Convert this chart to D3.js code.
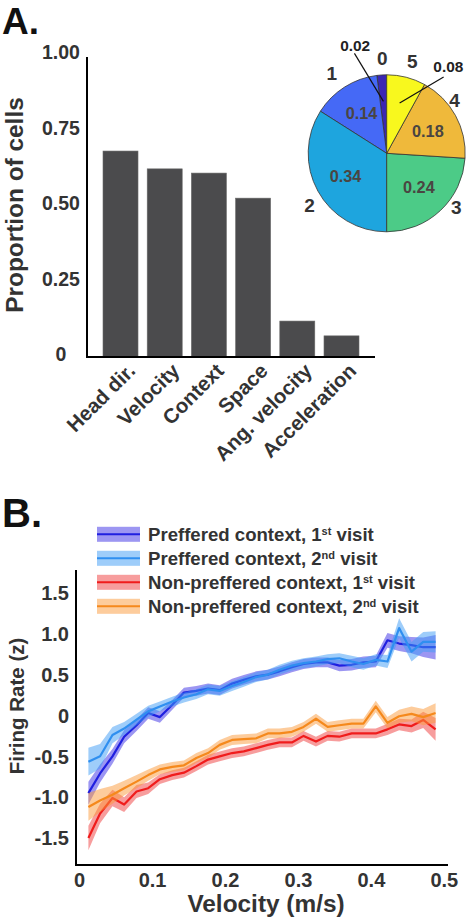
<!DOCTYPE html>
<html><head><meta charset="utf-8">
<script src="https://cdn.jsdelivr.net/npm/d3@7"></script>
<style>body{margin:0;background:#fff} svg text{font-family:"Liberation Sans",Arial,sans-serif;font-weight:bold}</style>
</head><body><svg id="c" width="470" height="918"></svg>
<script>
// ---------- data ----------
const barCategories = ["Head dir.","Velocity","Context","Space","Ang. velocity","Acceleration"];
const barValues = [0.682,0.623,0.609,0.526,0.119,0.07];
const barTicks = [0,0.25,0.5,0.75,1];
const barTickLabels = ["0","0.25","0.50","0.75","1.00"];

const pieCategories = ["0","1","2","3","4","5"];
const pieValues = [0.02,0.14,0.34,0.24,0.18,0.08];
const pieValueLabels = ["0.02","0.14","0.34","0.24","0.18","0.08"];

const velocity = [0.012,0.028,0.045,0.061,0.078,0.094,0.110,0.127,0.143,0.160,0.176,0.192,0.209,0.225,0.242,0.258,0.274,0.291,0.307,0.324,0.340,0.356,0.373,0.389,0.406,0.422,0.438,0.455,0.471,0.488];
const prefVisit1 = [-0.95,-0.71,-0.50,-0.26,-0.12,0.03,-0.02,0.13,0.28,0.30,0.33,0.31,0.39,0.435,0.48,0.50,0.54,0.59,0.63,0.65,0.65,0.61,0.62,0.65,0.66,0.92,0.88,0.86,0.835,0.835];
const prefVisit1Sem = [0.14,0.11,0.09,0.08,0.07,0.07,0.07,0.06,0.06,0.06,0.06,0.06,0.06,0.06,0.06,0.06,0.06,0.06,0.06,0.06,0.06,0.07,0.07,0.07,0.07,0.09,0.09,0.10,0.12,0.15];
const prefVisit2 = [-0.566,-0.50,-0.24,-0.16,-0.05,0.05,0.11,0.17,0.22,0.26,0.32,0.30,0.36,0.41,0.47,0.50,0.56,0.61,0.64,0.66,0.69,0.70,0.66,0.63,0.68,0.66,1.07,0.78,0.90,0.90];
const prefVisit2Sem = [0.17,0.15,0.10,0.08,0.07,0.07,0.06,0.06,0.06,0.06,0.06,0.06,0.06,0.06,0.06,0.06,0.06,0.06,0.06,0.06,0.06,0.06,0.07,0.07,0.07,0.08,0.12,0.12,0.12,0.13];
const nonPrefVisit1 = [-1.50,-1.20,-1.01,-1.09,-0.93,-0.89,-0.78,-0.73,-0.70,-0.62,-0.54,-0.50,-0.46,-0.44,-0.40,-0.36,-0.33,-0.33,-0.25,-0.32,-0.25,-0.26,-0.22,-0.22,-0.22,-0.17,-0.11,-0.13,-0.055,-0.17];
const nonPrefVisit1Sem = [0.15,0.12,0.10,0.09,0.08,0.07,0.06,0.06,0.06,0.06,0.06,0.06,0.06,0.06,0.06,0.06,0.06,0.06,0.06,0.06,0.06,0.06,0.06,0.06,0.06,0.07,0.07,0.08,0.10,0.14];
const nonPrefVisit2 = [-1.12,-1.04,-0.97,-0.89,-0.81,-0.73,-0.66,-0.63,-0.61,-0.52,-0.46,-0.36,-0.30,-0.29,-0.28,-0.22,-0.22,-0.20,-0.14,-0.04,-0.14,-0.12,-0.10,-0.10,0.11,-0.09,-0.01,0.02,-0.02,0.03];
const nonPrefVisit2Sem = [0.17,0.14,0.11,0.09,0.08,0.07,0.06,0.06,0.06,0.06,0.06,0.06,0.06,0.06,0.06,0.06,0.06,0.06,0.06,0.06,0.06,0.06,0.06,0.06,0.07,0.07,0.08,0.09,0.10,0.12];
const lineXTicks = [0,0.1,0.2,0.3,0.4,0.5];
const lineXTickLabels = ["0","0.1","0.2","0.3","0.4","0.5"];
const lineYTicks = [-1.5,-1,-0.5,0,0.5,1,1.5];
const lineYTickLabels = ["-1.5","-1.0","-0.5","0","0.5","1.0","1.5"];
const legendMain = ["Preffered context, 1","Preffered context, 2","Non-preffered context, 1","Non-preffered context, 2"];
const legendSup = ["st","nd","st","nd"];
const legendTail = [" visit"," visit"," visit"," visit"];

// ---------- drawing ----------
const svg = d3.select("#c");
const ink = "#333";

svg.append("text").attr("x",2).attr("y",34).attr("font-size",37).attr("fill","#111").text("A.");

// Bar chart
const bx = d3.scaleBand().domain(barCategories).range([87,375]).paddingInner(0.208).paddingOuter(0.362);
const by = d3.scaleLinear().domain([0,1]).range([357,55]);
const gb = svg.append("g");
gb.selectAll("rect").data(barValues).join("rect")
  .attr("x",(d,i)=>bx(barCategories[i])).attr("width",bx.bandwidth())
  .attr("y",d=>by(d)).attr("height",d=>by(0)-by(d))
  .attr("fill","#4b4b4d").attr("stroke","#6a6a6a").attr("stroke-width",0.6);
gb.append("line").attr("x1",87).attr("x2",87).attr("y1",57).attr("y2",358).attr("stroke","#000").attr("stroke-width",2);
gb.append("line").attr("x1",86).attr("x2",375).attr("y1",357).attr("y2",357).attr("stroke","#000").attr("stroke-width",2);
gb.selectAll("text.yt").data(barTicks).join("text").attr("class","yt")
  .attr("x",61).attr("y",d=>by(d)-3).attr("dy","0.36em").attr("text-anchor","middle")
  .attr("font-size",19.5).attr("fill",ink).text((d,i)=>barTickLabels[i]);
gb.selectAll("text.xt").data(barCategories).join("text").attr("class","xt")
  .attr("transform",d=>`translate(${bx(d)+bx.bandwidth()/2+11},367) rotate(-45)`)
  .attr("dy","0.35em").attr("text-anchor","end").attr("font-size",20.5).attr("fill",ink).text(d=>d);
gb.append("text").attr("transform","translate(23,205) rotate(-90)").attr("text-anchor","middle")
  .attr("font-size",24.4).attr("fill",ink).text("Proportion of cells");

// Pie chart
const pieColors = ["#3b27b2","#4569f6","#1ea5de","#4ccb87","#efb93b","#f8f81e"];
const pcx = 386.7, pcy = 153.3, pr = 78.5;
const pie = d3.pie().sort(null).startAngle(0).endAngle(-2*Math.PI);
const arcs = pie(pieValues);
const arc = d3.arc().innerRadius(0).outerRadius(pr);
const gp = svg.append("g").attr("transform",`translate(${pcx},${pcy})`);
gp.selectAll("path").data(arcs).join("path").attr("d",arc)
  .attr("fill",(d,i)=>pieColors[i]).attr("stroke","#333").attr("stroke-width",0.8);
const inArc = d3.arc().innerRadius(47).outerRadius(47);
const leadArc = d3.arc().innerRadius(52).outerRadius(52);
gp.selectAll("text.in").data(arcs.filter(d=>d.value>=0.1)).join("text").attr("class","in")
  .attr("transform",d=>`translate(${inArc.centroid(d)})`).attr("text-anchor","middle").attr("dy","0.36em")
  .attr("font-size",16.3).attr("fill","#4a4542").text(d=>pieValueLabels[d.index]);
const outR = [95,97,93,88,86,96], outNudge = [1,-2,-5,-9,-9,1];
gp.selectAll("text.out").data(arcs).join("text").attr("class","out")
  .attr("transform",d=>{
    const a = (d.startAngle+d.endAngle)/2 + outNudge[d.index]*Math.PI/180;
    return `translate(${outR[d.index]*Math.sin(a)},${-outR[d.index]*Math.cos(a)})`;
  }).attr("text-anchor","middle").attr("dy","0.36em")
  .attr("font-size",19).attr("fill",ink).text(d=>pieCategories[d.index]);
const calloutOffset = {0:[-29,-48], 5:[44,-26]};
const calloutText = {0:[0.7,-2], 5:[4.7,-5]};
arcs.filter(d=>d.value<0.1).forEach(d=>{
  const p = leadArc.centroid(d);
  const o = calloutOffset[d.index], t = calloutText[d.index];
  const q = [p[0]+o[0], p[1]+o[1]];
  gp.append("line").attr("x1",p[0]).attr("y1",p[1]).attr("x2",q[0]).attr("y2",q[1]).attr("stroke","#111").attr("stroke-width",1.2);
  gp.append("text").attr("x",q[0]+t[0]).attr("y",q[1]+t[1]).attr("text-anchor","middle").attr("font-size",15.4).attr("fill","#222").text(pieValueLabels[d.index]);
});

svg.append("text").attr("x",2).attr("y",527).attr("font-size",40).attr("fill","#111").text("B.");

// Line chart
const lx = d3.scaleLinear().domain([-0.005,0.505]).range([76,448]);
const ly = d3.scaleLinear().domain([-1.83,1.78]).range([865,570]);
const series = [
  {m:prefVisit1,s:prefVisit1Sem,line:"#1f1fe0",band:"#3a2ee6"},
  {m:prefVisit2,s:prefVisit2Sem,line:"#2f8ff0",band:"#3d9cf5"},
  {m:nonPrefVisit1,s:nonPrefVisit1Sem,line:"#f01c1c",band:"#f03c3c"},
  {m:nonPrefVisit2,s:nonPrefVisit2Sem,line:"#f5891c",band:"#fc9a3a"}
];
const gl = svg.append("g");
const area = d3.area().x((d,i)=>lx(velocity[i])).y0(d=>ly(d[0]-d[1])).y1(d=>ly(d[0]+d[1]));
const line = d3.line().x((d,i)=>lx(velocity[i])).y(d=>ly(d));
series.forEach(s=>{
  const pts = s.m.map((v,i)=>[v,s.s[i]]);
  gl.append("path").attr("d",area(pts)).attr("fill",s.band).attr("fill-opacity",0.5);
  gl.append("path").attr("d",line(s.m)).attr("fill","none").attr("stroke",s.line).attr("stroke-width",2.2).attr("stroke-linejoin","round");
});
gl.append("line").attr("x1",76).attr("x2",76).attr("y1",570).attr("y2",866).attr("stroke","#000").attr("stroke-width",2);
gl.append("line").attr("x1",75).attr("x2",448).attr("y1",865).attr("y2",865).attr("stroke","#000").attr("stroke-width",2);
gl.selectAll("text.yt").data(lineYTicks).join("text").attr("class","yt")
  .attr("x",69).attr("y",d=>ly(d)).attr("dy","0.36em").attr("text-anchor","end")
  .attr("font-size",20).attr("fill",ink).text((d,i)=>lineYTickLabels[i]);
gl.selectAll("text.xt").data(lineXTicks).join("text").attr("class","xt")
  .attr("x",d=>lx(d)).attr("y",880).attr("dy","0.36em").attr("text-anchor","middle")
  .attr("font-size",20).attr("fill",ink).text((d,i)=>lineXTickLabels[i]);
gl.append("text").attr("x",266).attr("y",912).attr("text-anchor","middle").attr("font-size",24.4).attr("fill",ink).text("Velocity (m/s)");
gl.append("text").attr("transform","translate(24,706) rotate(-90)").attr("text-anchor","middle")
  .attr("font-size",20.5).attr("fill",ink).text("Firing Rate (z)");

// Legend
const lg = svg.append("g");
legendMain.forEach((t,i)=>{
  const cy = 534.3 + i*24;
  lg.append("rect").attr("x",97).attr("y",cy-7.5).attr("width",43).attr("height",15).attr("fill",series[i].band).attr("fill-opacity",0.5);
  lg.append("line").attr("x1",97).attr("x2",140).attr("y1",cy).attr("y2",cy).attr("stroke",series[i].line).attr("stroke-width",2);
  const tx = lg.append("text").attr("x",148).attr("y",cy+6.7).attr("font-size",18.6).attr("fill",ink);
  tx.append("tspan").text(t);
  tx.append("tspan").attr("font-size",11).attr("dy",-6).text(legendSup[i]);
  tx.append("tspan").attr("dy",6).text(legendTail[i]);
});
</script></body></html>
